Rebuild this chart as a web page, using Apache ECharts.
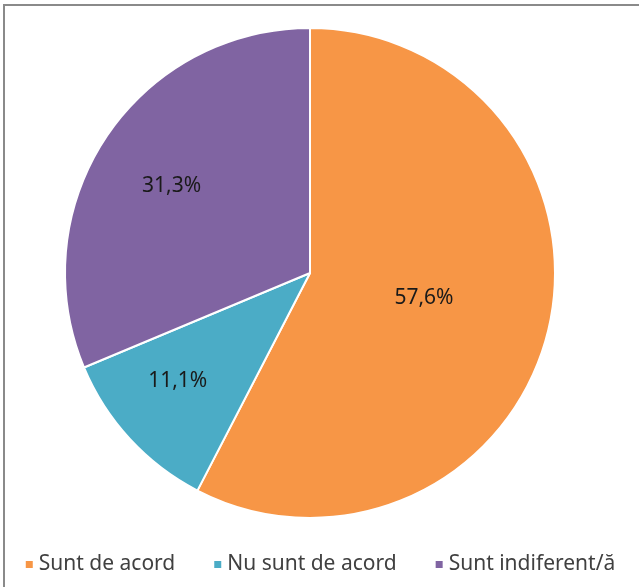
<!DOCTYPE html>
<html>
<head>
<meta charset="utf-8">
<script src="https://cdn.jsdelivr.net/npm/echarts@6/dist/echarts.min.js"></script>
<style>
  html, body { margin: 0; padding: 0; background: #fff; }
  #chart { width: 639px; height: 587px; }
</style>
</head>
<body>
<div id="chart"></div>
<script>
var categories = ['Sunt de acord', 'Nu sunt de acord', 'Sunt indiferent/ă'];
var values = [57.6, 11.1, 31.3];
var colors = ['#F79646', '#4BACC6', '#8064A2'];
// deplasari etichete (Excel "best fit")
var labelOffsets = [[-8, -5], [-40, 23], [-34, -17]];

var myChart = echarts.init(document.getElementById('chart'));

var pieData = categories.map(function (name, i) {
    return {
        name: name,
        value: values[i],
        itemStyle: { color: colors[i] },
        label: { offset: labelOffsets[i] }
    };
});

var option = {
    animation: false,
    graphic: [{
        type: 'rect',
        shape: { x: 4, y: 5, width: 800, height: 800 },
        style: { fill: 'none', stroke: '#8a8a8a', lineWidth: 2 }
    }],
    legend: {
        bottom: 7,
        left: 'center',
        itemWidth: 9,
        itemHeight: 9,
        itemGap: 37,
        icon: 'rect',
        textStyle: { fontFamily: '"Noto Sans", sans-serif', fontSize: 21, color: '#404040' },
        data: categories
    },
    series: [{
        type: 'pie',
        center: [310, 273],
        radius: [0, 245],
        startAngle: 90,
        clockwise: true,
        silent: true,
        itemStyle: { borderColor: '#fff', borderWidth: 2 },
        label: {
            show: true,
            position: 'inside',
            fontFamily: '"Noto Sans", sans-serif',
            fontSize: 21,
            color: '#1a1a1a',
            formatter: function (p) {
                return p.value.toFixed(1).replace('.', ',') + '%';
            }
        },
        labelLine: { show: false },
        data: pieData
    }]
};

myChart.setOption(option);
</script>
</body>
</html>
